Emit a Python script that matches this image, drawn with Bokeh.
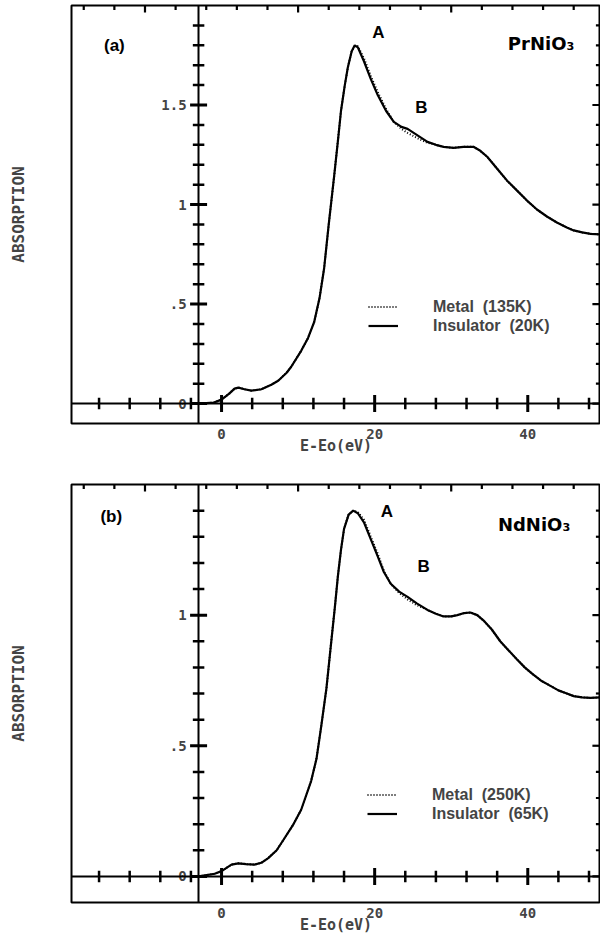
from bokeh.plotting import figure
from bokeh.models import (LinearAxis, FixedTicker, Range1d, Label, Legend, LegendItem, Span)
from bokeh.layouts import column
from bokeh.embed import file_html
from bokeh.resources import INLINE

# ---------------- data: panel (a) PrNiO3 ----------------
energy_a = [-3, -1, 0, 1, 1.7, 2.2, 3, 3.9, 5.2, 6.5, 7.4, 8.5, 9.1, 10.4, 11.3, 12.1,
            12.8, 13.4, 14.0, 14.7, 15.2, 15.6, 16.1, 16.5, 17.0, 17.4, 17.8, 18.6,
            19.5, 20.4, 21.5, 22.5, 23.5, 24.3, 25.5, 26.9, 28, 29, 30.3, 31.6, 32.9,
            33.8, 34.7, 36, 37.3, 38.6, 39.9, 41.2, 42.5, 43.8, 45.1, 46, 47.1, 48.2, 49.5]
insulator_a = [0.0, 0.005, 0.02, 0.05, 0.075, 0.08, 0.072, 0.065, 0.072, 0.095, 0.115,
               0.155, 0.185, 0.265, 0.33, 0.41, 0.53, 0.68, 0.90, 1.14, 1.32, 1.47, 1.60,
               1.69, 1.77, 1.80, 1.79, 1.72, 1.63, 1.55, 1.47, 1.415, 1.39, 1.38, 1.35,
               1.315, 1.30, 1.29, 1.285, 1.29, 1.29, 1.27, 1.24, 1.18, 1.12, 1.07, 1.02,
               0.975, 0.94, 0.91, 0.885, 0.87, 0.86, 0.853, 0.85]
metal_a = [0.0, 0.005, 0.02, 0.05, 0.075, 0.08, 0.072, 0.065, 0.072, 0.095, 0.115,
           0.155, 0.185, 0.265, 0.33, 0.41, 0.53, 0.68, 0.90, 1.14, 1.32, 1.47, 1.60,
           1.69, 1.77, 1.795, 1.795, 1.735, 1.645, 1.565, 1.48, 1.415, 1.38, 1.36, 1.335,
           1.31, 1.30, 1.29, 1.285, 1.29, 1.29, 1.27, 1.24, 1.18, 1.12, 1.07, 1.02,
           0.975, 0.94, 0.91, 0.885, 0.87, 0.86, 0.853, 0.85]

# ---------------- data: panel (b) NdNiO3 ----------------
energy_b = [-3, -0.9, 0, 1.3, 2.2, 3.2, 4.3, 5.2, 6.1, 7.2, 8.2, 9.3, 10.4, 11.7, 12.4,
            13.0, 13.7, 14.3, 14.8, 15.2, 15.6, 16.0, 16.6, 17.2, 17.8, 18.6, 19.5, 20.4,
            21.2, 22.1, 23.2, 24.3, 25.5, 26.9, 28, 29, 30, 30.8, 31.7, 32.5, 33.4, 34.2,
            35.3, 36.4, 37.5, 38.6, 39.6, 40.6, 41.7, 42.9, 44, 45.1, 46, 47.1, 48.2, 49.5]
insulator_b = [0.0, 0.01, 0.02, 0.045, 0.05, 0.047, 0.045, 0.052, 0.07, 0.10, 0.145,
               0.195, 0.255, 0.365, 0.45, 0.57, 0.72, 0.89, 1.03, 1.15, 1.25, 1.33, 1.385,
               1.40, 1.39, 1.355, 1.29, 1.225, 1.165, 1.12, 1.09, 1.07, 1.045, 1.02, 1.005,
               0.995, 0.995, 1.0, 1.008, 1.01, 1.0, 0.98, 0.945, 0.90, 0.865, 0.83, 0.80,
               0.775, 0.75, 0.73, 0.712, 0.70, 0.69, 0.685, 0.683, 0.685]
metal_b = [0.0, 0.01, 0.02, 0.045, 0.05, 0.047, 0.045, 0.052, 0.07, 0.10, 0.145,
           0.195, 0.255, 0.365, 0.45, 0.57, 0.72, 0.89, 1.03, 1.15, 1.25, 1.33, 1.385,
           1.40, 1.395, 1.365, 1.30, 1.235, 1.17, 1.12, 1.085, 1.06, 1.038, 1.02, 1.005,
           0.995, 0.995, 1.0, 1.008, 1.01, 1.0, 0.98, 0.945, 0.90, 0.865, 0.83, 0.80,
           0.775, 0.75, 0.73, 0.712, 0.70, 0.69, 0.685, 0.683, 0.685]

# ---------------- ticks ----------------
x_label_ticks = [0, 20, 40]
x_major_ticks = [0, 20, 40]
x_minor_ticks = [-16, -12, -8, -4, 4, 8, 12, 16, 24, 28, 32, 36, 44, 48]
top_major_ticks = [-10, 10, 30]
top_minor_ticks = [-18, -14, -6, -2, 2, 6, 14, 18, 22, 26, 34, 38, 42, 46]
y_major_a = [0, 0.5, 1, 1.5]
y_minor_a = [0.1, 0.2, 0.3, 0.4, 0.6, 0.7, 0.8, 0.9, 1.1, 1.2, 1.3, 1.4, 1.6, 1.7, 1.8, 1.9]
y_major_b = [0, 0.5, 1]
y_minor_b = [0.1, 0.2, 0.3, 0.4, 0.6, 0.7, 0.8, 0.9, 1.1, 1.2, 1.3, 1.4]
y_tick_text = {0: "0", 0.5: ".5", 1: "1", 1.5: "1.5"}

X_START, X_END = -19.6, 49.5
Y_START = -0.1
E_AXIS = -3          # energy where the vertical axis crosses

MONO = "DejaVu Sans Mono"
SANS = "Liberation Sans"
WIDTH, LEFT = 600, 71


def make_panel(energy, metal, insul, y_end, y_major, y_minor, height, top, bottom,
               tag, tag_xy, compound, comp_xy, a_xy, b_xy, metal_lbl, ins_lbl, leg_loc):
    p = figure(width=WIDTH, height=height, x_range=Range1d(X_START, X_END),
               y_range=Range1d(Y_START, y_end), output_backend="svg",
               toolbar_location=None, x_axis_location=None, y_axis_location=None,
               min_border_left=LEFT, min_border_right=0, min_border_top=top,
               min_border_bottom=bottom)
    p.grid.visible = False
    p.outline_line_color = "black"
    p.outline_line_width = 2
    p.background_fill_color = "white"
    p.border_fill_color = "white"

    # size of one pixel in data units, for tick lengths given in pixels
    ux = (X_END - X_START) / (WIDTH - LEFT)
    uy = (y_end - Y_START) / (height - top - bottom)

    # bottom axis carrying the labels below the frame
    xb = LinearAxis(ticker=FixedTicker(ticks=x_label_ticks), axis_line_color=None,
                    major_tick_line_color=None, minor_tick_line_color=None,
                    major_tick_in=0, major_tick_out=0,
                    major_label_text_font=MONO, major_label_text_font_style="bold",
                    major_label_text_font_size="14px", major_label_standoff=5,
                    axis_label="E-Eo(eV)", axis_label_standoff=-5,
                    axis_label_text_font=MONO, axis_label_text_font_style="bold",
                    axis_label_text_font_size="15px")
    p.add_layout(xb, "below")

    # interior y axis along E = -3 (labels + rule)
    yi = LinearAxis(fixed_location=E_AXIS,
                    ticker=FixedTicker(ticks=y_major),
                    major_label_overrides={k: v for k, v in y_tick_text.items() if k in y_major},
                    major_label_text_font=MONO, major_label_text_font_style="bold",
                    major_label_text_font_size="14px", major_label_standoff=12,
                    axis_line_width=2, major_tick_in=0, major_tick_out=0,
                    major_tick_line_color=None, minor_tick_line_color=None)
    p.add_layout(yi, "left")

    # outer left axis only for the title
    yl = LinearAxis(ticker=FixedTicker(ticks=[]), axis_line_color=None,
                    major_tick_line_color=None, minor_tick_line_color=None,
                    major_tick_in=0, major_tick_out=0, major_label_standoff=0,
                    axis_label="ABSORPTION", axis_label_standoff=44,
                    axis_label_text_font=MONO, axis_label_text_font_style="bold",
                    axis_label_text_font_size="16px")
    p.add_layout(yl, "left")

    # interior x axis along absorption = 0
    p.add_layout(Span(location=0, dimension="width", line_color="black", line_width=2))

    seg = dict(line_color="black", line_cap="square")
    # crossing ticks on the interior x axis
    n = len(x_major_ticks)
    p.segment(x_major_ticks, [-7 * uy] * n, x_major_ticks, [7 * uy] * n,
              line_width=3, **seg)
    n = len(x_minor_ticks)
    p.segment(x_minor_ticks, [-4.5 * uy] * n, x_minor_ticks, [4.5 * uy] * n,
              line_width=2.5, **seg)
    # crossing ticks on the interior y axis
    n = len(y_major)
    p.segment([E_AXIS - 7 * ux] * n, y_major, [E_AXIS + 7 * ux] * n, y_major,
              line_width=3, **seg)
    n = len(y_minor)
    p.segment([E_AXIS - 4.5 * ux] * n, y_minor, [E_AXIS + 4.5 * ux] * n, y_minor,
              line_width=2.5, **seg)
    # inward ticks on the top edge
    n = len(top_major_ticks)
    p.segment(top_major_ticks, [y_end] * n, top_major_ticks, [y_end - 6 * uy] * n,
              line_width=2.2, **seg)
    n = len(top_minor_ticks)
    p.segment(top_minor_ticks, [y_end] * n, top_minor_ticks, [y_end - 3.5 * uy] * n,
              line_width=2.2, **seg)
    # inward ticks on the right edge
    n = len(y_major)
    p.segment([X_END] * n, y_major, [X_END - 7 * ux] * n, y_major, line_width=2.2, **seg)
    n = len(y_minor)
    p.segment([X_END] * n, y_minor, [X_END - 3.5 * ux] * n, y_minor, line_width=2.2, **seg)

    r_ins = p.line(energy, insul, line_color="black", line_width=2.2)
    r_met = p.line(energy, metal, line_color="black", line_width=2.0, line_dash="1 2")

    legend = Legend(items=[LegendItem(label=metal_lbl, renderers=[r_met]),
                           LegendItem(label=ins_lbl, renderers=[r_ins])],
                    location=leg_loc, border_line_color=None, background_fill_alpha=0,
                    label_text_font=SANS, label_text_font_style="bold",
                    label_text_font_size="16px", glyph_width=30, glyph_height=19,
                    label_height=19, label_standoff=35, spacing=0, padding=0, margin=0)
    p.add_layout(legend)

    lab = dict(text_font_style="bold", text_baseline="middle", text_color="black")
    p.add_layout(Label(x=tag_xy[0], y=tag_xy[1], text=tag, text_align="center",
                       text_font=SANS, text_font_size="17px", **lab))
    p.add_layout(Label(x=comp_xy[0], y=comp_xy[1], text=compound, text_align="left",
                       text_font="DejaVu Sans", text_font_size="18px", **lab))
    p.add_layout(Label(x=a_xy[0], y=a_xy[1], text="A", text_align="center",
                       text_font=SANS, text_font_size="17px", **lab))
    p.add_layout(Label(x=b_xy[0], y=b_xy[1], text="B", text_align="center",
                       text_font=SANS, text_font_size="17px", **lab))
    return p


pa = make_panel(energy_a, metal_a, insulator_a, 2.0, y_major_a, y_minor_a, 460, 5, 37,
                "(a)", (-14.0, 1.80), "PrNiO\u2083", (37.4, 1.81), (20.5, 1.865),
                (26.1, 1.487), "Metal  (135K)", "Insulator  (20K)", (297, 88))
pb = make_panel(energy_b, metal_b, insulator_b, 1.5, y_major_b, y_minor_b, 478, 24, 36,
                "(b)", (-14.4, 1.377), "NdNiO\u2083", (36.1, 1.346), (21.6, 1.396),
                (26.4, 1.185), "Metal  (250K)", "Insulator  (65K)", (296, 79))

layout = column(pa, pb, spacing=0)
open("out.html", "w").write(file_html(layout, INLINE))
